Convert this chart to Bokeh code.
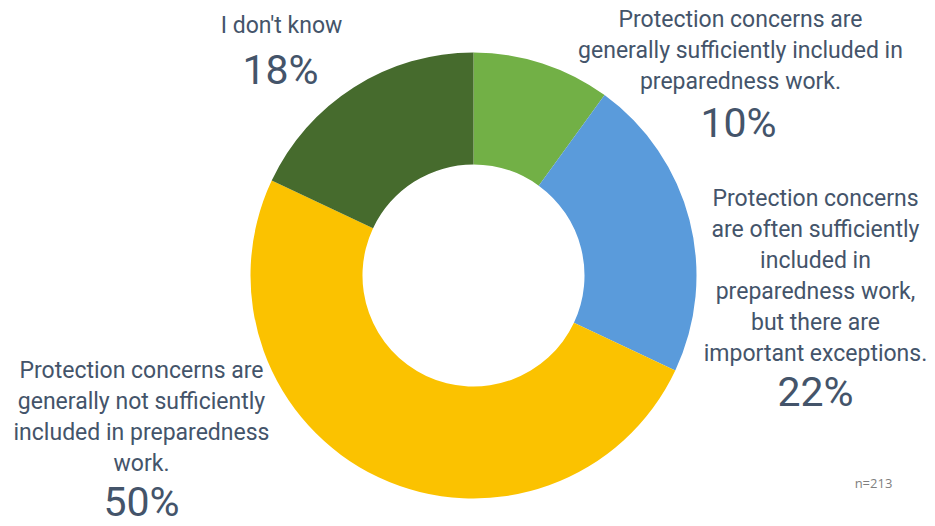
import math
from bokeh.plotting import figure
from bokeh.models import ColumnDataSource, Range1d
from bokeh.core.properties import value
from bokeh.embed import file_html
from bokeh.resources import INLINE

# ---- data ----
categories = [
    "Protection concerns are\ngenerally sufficiently included in\npreparedness work.",
    "Protection concerns\nare often sufficiently\nincluded in\npreparedness work,\nbut there are\nimportant exceptions.",
    "Protection concerns are\ngenerally not sufficiently\nincluded in preparedness\nwork.",
    "I don't know",
]
percents = [10, 22, 50, 18]
colors = ["#72b046", "#5a9bdb", "#fbc200", "#466b2d"]
note = "n=213"

# ---- layout (pixel coords, y measured from top) ----
W, H = 935, 526
cx, cy = 473, 275
r_out, r_in = 223, 111
label_pos = [(740, 5), (815, 184), (141, 356), (281, 11)]
pct_pos = [(738, 122), (815, 391), (141, 501), (280, 69)]

p = figure(width=W, height=H, output_backend="svg", toolbar_location=None,
           x_range=Range1d(0, W), y_range=Range1d(0, H), min_border=0)
p.axis.visible = False
p.grid.visible = False
p.outline_line_color = None
p.background_fill_color = "white"

total = sum(percents)
starts, ends = [], []
acc = 0.0
for v in percents:
    starts.append(math.pi / 2 - 2 * math.pi * acc / total)
    acc += v
    ends.append(math.pi / 2 - 2 * math.pi * acc / total)

src = ColumnDataSource(dict(x=[cx] * 4, y=[H - cy] * 4, start=starts, end=ends, color=colors))
p.annular_wedge(x="x", y="y", inner_radius=r_in, outer_radius=r_out,
                start_angle="start", end_angle="end", direction="clock",
                fill_color="color", line_color=None, source=src)

lab_src = ColumnDataSource(dict(
    x=[q[0] for q in label_pos], y=[H - q[1] for q in label_pos], text=categories))
p.text(x="x", y="y", text="text", source=lab_src, text_align="center",
       text_baseline="top", text_font=value("Roboto"), text_font_size="23px",
       text_color="#44546a", text_line_height=1.15)

pct_src = ColumnDataSource(dict(
    x=[q[0] for q in pct_pos], y=[H - q[1] for q in pct_pos],
    text=[f"{v}%" for v in percents]))
p.text(x="x", y="y", text="text", source=pct_src, text_align="center",
       text_baseline="middle", text_font=value("Roboto"), text_font_size="41px",
       text_color="#44546a")

p.text(x=[873], y=[H - 482], text=[note], text_align="center", text_baseline="middle",
       text_font=value("Open Sans"), text_font_size="13px", text_color="#7f7f7f")

open("out.html", "w").write(file_html(p, INLINE))
